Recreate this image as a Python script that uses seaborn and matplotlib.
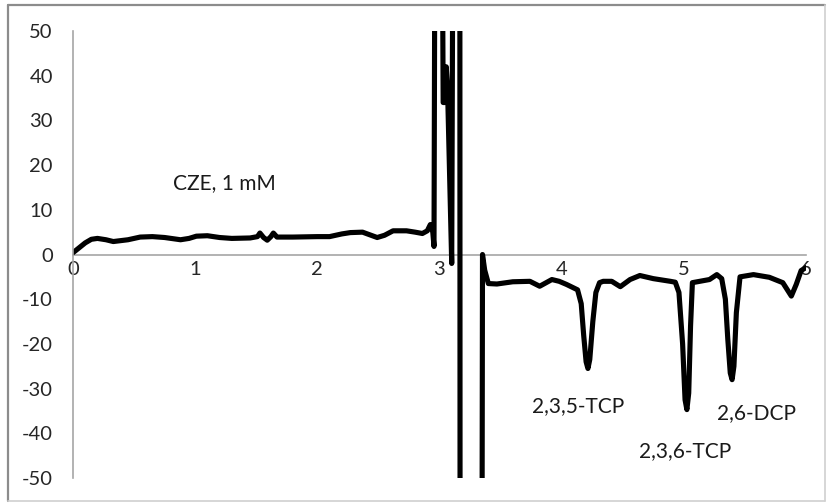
import matplotlib
matplotlib.use("Agg")
import matplotlib.pyplot as plt
import seaborn as sns
import pandas as pd
from matplotlib.lines import Line2D

# Electropherogram trace (time, signal)
time = [0.00, 0.05, 0.10, 0.15, 0.20, 0.27, 0.33, 0.45, 0.55, 0.65, 0.75, 0.88,
        0.95, 1.01, 1.10, 1.20, 1.30, 1.45, 1.51, 1.53, 1.56, 1.59, 1.62, 1.64,
        1.67, 1.80, 2.00, 2.10, 2.20, 2.27, 2.37, 2.43, 2.49, 2.55, 2.62, 2.73,
        2.80, 2.86, 2.90, 2.925, 2.945, 2.955, 2.975, 3.00, 3.03, 3.045, 3.055,
        3.065, 3.10, 3.125, 3.165, 3.17, 3.34, 3.352, 3.37, 3.40, 3.47, 3.60,
        3.74, 3.82, 3.92, 3.98, 4.04, 4.10, 4.13, 4.16, 4.18, 4.20, 4.215, 4.23,
        4.255, 4.28, 4.31, 4.34, 4.41, 4.48, 4.56, 4.64, 4.75, 4.89, 4.93, 4.96,
        4.99, 5.01, 5.025, 5.04, 5.055, 5.07, 5.13, 5.21, 5.27, 5.31, 5.34, 5.36,
        5.38, 5.395, 5.41, 5.43, 5.46, 5.57, 5.70, 5.81, 5.88, 5.92, 5.96, 6.00]
signal = [0.4, 1.5, 2.6, 3.4, 3.6, 3.3, 2.9, 3.3, 3.9, 4.0, 3.8, 3.3,
          3.6, 4.1, 4.2, 3.8, 3.6, 3.7, 4.0, 4.8, 3.8, 3.2, 4.0, 4.8,
          3.9, 3.9, 4.0, 4.0, 4.6, 4.9, 5.0, 4.4, 3.8, 4.3, 5.3, 5.3,
          5.0, 4.7, 5.3, 6.7, 5.0, 1.8, 200, 200, 34, 34, 42,
          38, -2.0, 200, 200, -200, -200, 0.0, -3.5, -6.5, -6.6, -6.1,
          -6.0, -7.1, -5.6, -6.0, -6.7, -7.5, -7.9, -11.0, -18.0, -24.0, -25.5, -23.5,
          -15.0, -8.5, -6.3, -6.0, -6.0, -7.2, -5.6, -4.7, -5.4, -6.0, -6.2, -8.5,
          -20.0, -32.5, -34.7, -31.0, -16.0, -6.3, -6.0, -5.6, -4.5, -5.4, -10.0, -19.0,
          -26.5, -28.0, -25.0, -13.0, -5.0, -4.5, -5.1, -6.3, -9.3, -6.7, -3.6, -2.9]

# Peak annotations: (label, x, y)
labels = ["CZE, 1 mM", "2,3,5-TCP", "2,3,6-TCP", "2,6-DCP"]
label_x = [0.82, 3.76, 4.63, 5.27]
label_y = [16.0, -34.0, -44.0, -35.4]

x_ticks = [0, 1, 2, 3, 4, 5, 6]
y_ticks = [-50, -40, -30, -20, -10, 0, 10, 20, 30, 40, 50]

df = pd.DataFrame({"time": time, "signal": signal})

sns.set_style("white")
plt.rcParams["font.family"] = ["Lato", "DejaVu Sans"]

fig = plt.figure(figsize=(8.27, 5.03), dpi=100)
ax = fig.add_axes([73 / 827, 25 / 503, (806 - 73) / 827, (478 - 31) / 503])

sns.lineplot(data=df, x="time", y="signal", sort=False, estimator=None,
             color="black", lw=3.7, ax=ax, solid_joinstyle="round",
             solid_capstyle="round")

ax.set_xlim(0, 6)
ax.set_ylim(-50, 50)
ax.set_xticks(x_ticks)
ax.set_yticks(y_ticks)
ax.set_xticklabels([str(v) for v in x_ticks])
ax.set_yticklabels([str(v) for v in y_ticks])
ax.set_xlabel("")
ax.set_ylabel("")

axis_grey = "#a6a6a6"
for s in ["top", "right"]:
    ax.spines[s].set_visible(False)
ax.spines["bottom"].set_position(("data", 0))
ax.spines["bottom"].set_color(axis_grey)
ax.spines["left"].set_color(axis_grey)
ax.spines["bottom"].set_linewidth(1.2)
ax.spines["left"].set_linewidth(1.2)
ax.spines["bottom"].set_zorder(0)
ax.tick_params(axis="both", which="major", direction="out", length=4.5,
               width=1.0, color=axis_grey, labelsize=14.5, labelcolor="#262626")
ax.tick_params(axis="x", pad=0.0)
ax.tick_params(axis="y", pad=10)
ax.set_facecolor("none")

for t, lx, ly in zip(labels, label_x, label_y):
    ax.text(lx, ly, t, fontsize=15, color="#1a1a1a", ha="left", va="center")

# Chart area border
x0, x1 = 7.5 / 827, 824.5 / 827
y0, y1 = (503 - 501) / 503, (503 - 4.5) / 503
fig.add_artist(Line2D([x0, x0], [y0, y1], transform=fig.transFigure, color="#8c8c8c", lw=1.6))
fig.add_artist(Line2D([x0, x1], [y1, y1], transform=fig.transFigure, color="#8c8c8c", lw=1.6))
fig.add_artist(Line2D([x1, x1], [y0, y1], transform=fig.transFigure, color="#d0d0d0", lw=1.2))
fig.add_artist(Line2D([x0, x1], [y0, y0], transform=fig.transFigure, color="#d0d0d0", lw=1.2))

fig.savefig("out.png", dpi=100)
